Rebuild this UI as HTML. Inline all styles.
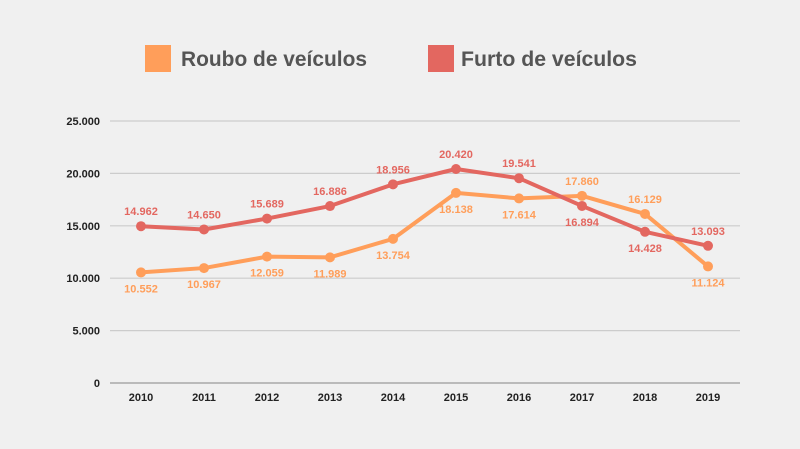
<!DOCTYPE html>
<html><head><meta charset="utf-8"><style>
html,body{margin:0;padding:0;background:#f0f0f0;}
svg{display:block;font-family:"Liberation Sans",sans-serif;}
</style></head><body>
<svg id="chart" width="800" height="449" viewBox="0 0 800 449">
<rect width="800" height="449" fill="#f0f0f0"/>
<g>
<rect x="145" y="45" width="26" height="27" fill="#ff9e5a"/>
<text x="181" y="66" font-size="21" font-weight="bold" fill="#555" textLength="186" lengthAdjust="spacingAndGlyphs">Roubo de veículos</text>
<rect x="428" y="45" width="26" height="27" fill="#e36760"/>
<text x="461" y="66" font-size="21" font-weight="bold" fill="#555" textLength="176" lengthAdjust="spacingAndGlyphs">Furto de veículos</text>
</g>
<g id="grid"></g><g id="xaxis"></g><g id="series"></g>
</svg>
<script>
const years=["2010","2011","2012","2013","2014","2015","2016","2017","2018","2019"];
const roubo=[10552,10967,12059,11989,13754,18138,17614,17860,16129,11124];
const furto=[14962,14650,15689,16886,18956,20420,19541,16894,14428,13093];
const yTicks=[0,5000,10000,15000,20000,25000];
const yTickLabels=["0","5.000","10.000","15.000","20.000","25.000"];
const NS="http://www.w3.org/2000/svg";
const x=i=>141+i*(708-141)/(years.length-1);
const y=v=>383-v*(383-121)/25000;
function mk(t,a,p){const e=document.createElementNS(NS,t);for(const k in a)e.setAttribute(k,a[k]);p.appendChild(e);return e;}
const fmt=v=>String(v).replace(/\B(?=(\d{3})+(?!\d))/g,".");
const grid=document.getElementById('grid');
yTicks.forEach((t,i)=>{
 const l=mk('line',{x1:110,x2:740,y1:y(t),y2:y(t),stroke:t===0?'#999':'#ccc','stroke-width':1.2},grid);
 
 
 const tx=mk('text',{x:100,y:y(t)+4,'text-anchor':'end','font-size':11,'font-weight':'bold',fill:'#222'},grid);
 tx.textContent=yTickLabels[i];
 
 
});
const xa=document.getElementById('xaxis');
years.forEach((yr,i)=>{
 const t=mk('text',{x:x(i),y:401,'text-anchor':'middle','font-size':11,'font-weight':'bold',fill:'#222'},xa);
 t.textContent=yr;
 
 
});
const sg=document.getElementById('series');
function draw(vals,color,name,above){
 const p=mk('polyline',{points:vals.map((v,i)=>x(i)+','+y(v)).join(' '),fill:'none',stroke:color,'stroke-width':4,'stroke-linejoin':'round'},sg);
 
 
 vals.forEach((v,i)=>{
  const c=mk('circle',{cx:x(i),cy:y(v),r:5,fill:color},sg);
  
  
  const up=above(i);
  const t=mk('text',{x:x(i),y:up?y(v)-11:y(v)+20,'text-anchor':'middle','font-size':11,'font-weight':'bold',fill:color},sg);
  t.textContent=fmt(v);
  
  
 });
}
draw(roubo,'#ff9e5a','roubo',i=>i===7||i===8);
draw(furto,'#e36760','furto',i=>!(i===7||i===8));
</script>
</body></html>
